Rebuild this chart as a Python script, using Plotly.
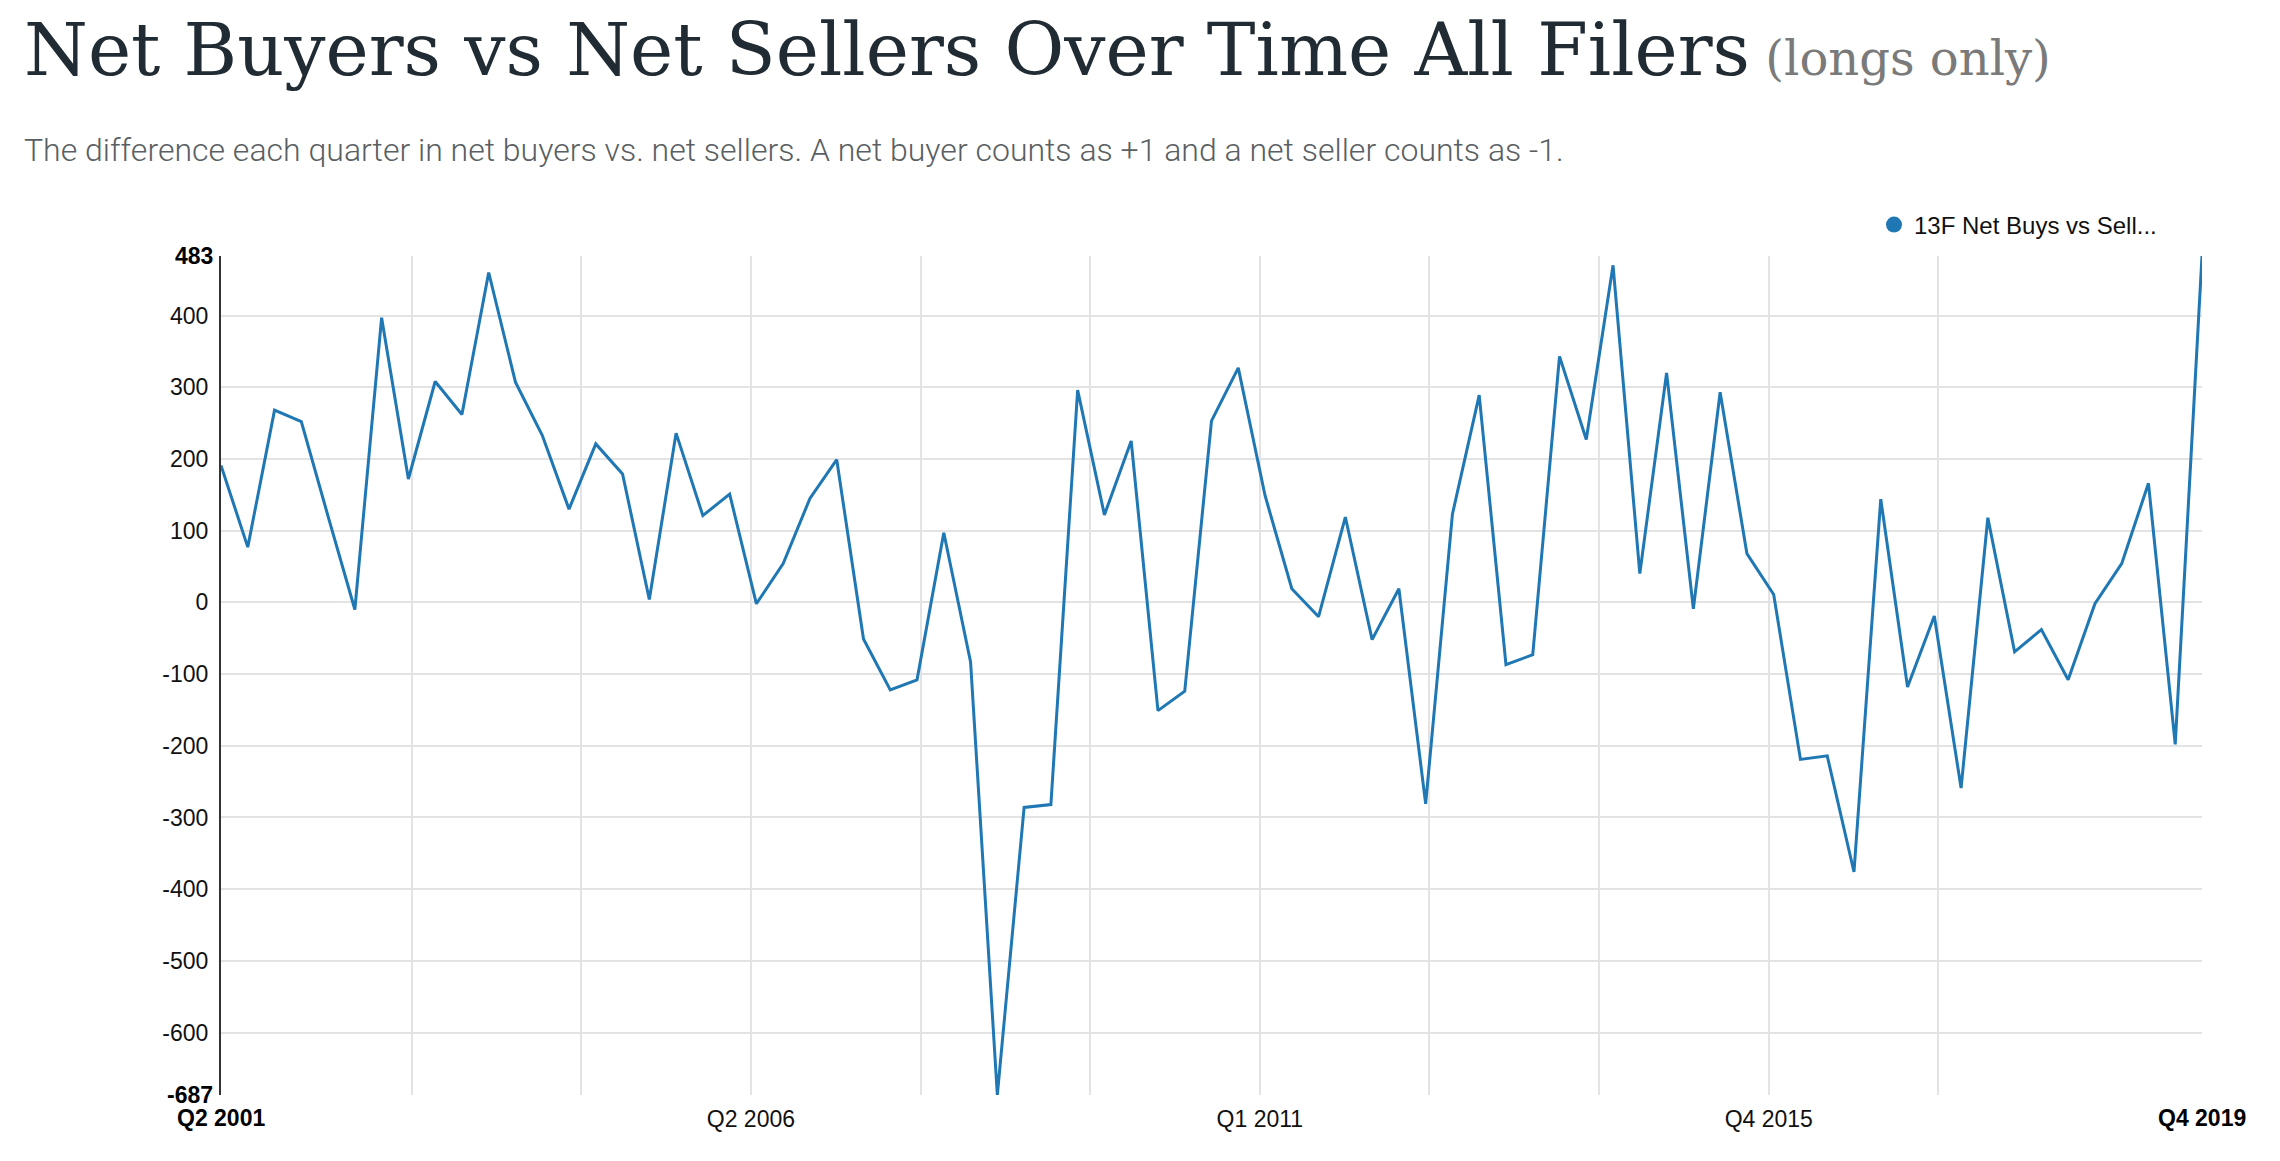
import plotly.graph_objects as go

# ---- data -------------------------------------------------------------
start_year, start_q = 2001, 2
net_buys_vs_sells = [
    191, 77, 268, 252, 120, -10, 397, 172, 308, 262,
    460, 307, 233, 130, 221, 179, 4, 236, 121, 151,
    -2, 54, 145, 199, -51, -122, -108, 97, -83, -687,
    -286, -282, 296, 122, 225, -151, -124, 253, 327, 149,
    19, -20, 119, -52, 19, -281, 123, 289, -87, -73,
    343, 227, 470, 40, 320, -9, 293, 68, 11, -219,
    -214, -376, 144, -118, -19, -259, 118, -69, -38, -108,
    -2, 54, 166, -198, 483,
]
y_ticks = [400, 300, 200, 100, 0, -100, -200, -300, -400, -500, -600]
y_min, y_max = -687, 483
x_mid_labels = ["", "", "Q2 2006", "", "", "Q1 2011", "", "", "Q4 2015", ""]
first_label, last_label = "Q2 2001", "Q4 2019"
series_name = "13F Net Buys vs Sell..."

# quarter labels (for hover)
quarters = []
y, q = start_year, start_q
for _ in net_buys_vs_sells:
    quarters.append(f"Q{q} {y}")
    q += 1
    if q > 4:
        q, y = 1, y + 1
xs = list(range(len(net_buys_vs_sells)))

# vertical grid positions (in quarter units)
grid_first, grid_step = 7.12, 6.337
grid_pos = [grid_first + k * grid_step for k in range(len(x_mid_labels))]

BLUE = "#1f77b4"
GRID = "#e3e3e3"
TICKFONT = dict(family="Liberation Sans, Arial, sans-serif", size=23, color="#111111")

fig = go.Figure()
fig.add_trace(go.Scatter(
    x=xs, y=net_buys_vs_sells, mode="lines", text=quarters,
    line=dict(color=BLUE, width=3), showlegend=False,
    hovertemplate="%{text}: %{y}<extra></extra>",
))
# legend entry (circle symbol)
fig.add_trace(go.Scatter(
    x=[None], y=[None], mode="markers", name=series_name,
    marker=dict(color=BLUE, size=22, symbol="circle"), showlegend=True,
))

# page has an 8px body margin, so the figure is laid out 8px up/left
W, H = 2264, 1145
L, R, T, B = 213, 70, 248, 58
pw, ph = W - L - R, H - T - B

def py(pix):
    return (H - B - pix) / ph

def px(pix):
    return (pix - L) / pw

fig.update_layout(
    width=W, height=H,
    margin=dict(l=L, r=R, t=T, b=B, pad=0),
    paper_bgcolor="white", plot_bgcolor="white",
    showlegend=True,
    legend=dict(
        x=px(1866), y=py(217), xanchor="left", yanchor="middle",
        orientation="h", bgcolor="rgba(0,0,0,0)", borderwidth=0,
        font=dict(family="Liberation Sans, Arial, sans-serif", size=24, color="#111111"),
        itemsizing="trace",
    ),
    xaxis=dict(
        range=[0, len(xs) - 1], tickmode="array", tickvals=grid_pos, ticktext=x_mid_labels,
        showgrid=True, gridcolor=GRID, gridwidth=2, zeroline=False, showline=False,
        ticks="", ticklabelstandoff=8, tickfont=TICKFONT, fixedrange=True,
    ),
    yaxis=dict(
        range=[y_min, y_max], tickmode="array", tickvals=y_ticks,
        ticktext=[str(v) for v in y_ticks],
        showgrid=True, gridcolor=GRID, gridwidth=1.6, zeroline=False,
        showline=True, linecolor="#333333", linewidth=2,
        ticks="", ticklabelstandoff=6, tickfont=TICKFONT, fixedrange=True,
    ),
)

bold = dict(family="Liberation Sans, Arial, sans-serif", size=23, color="#000000")
ann = [
    dict(text=f"<b>{y_max}</b>", xref="paper", yref="y", x=0, y=y_max,
         xanchor="right", yanchor="middle", xshift=-6, showarrow=False, font=bold),
    dict(text=f"<b>{y_min}</b>", xref="paper", yref="y", x=0, y=y_min,
         xanchor="right", yanchor="middle", xshift=-6, showarrow=False, font=bold),
    dict(text=f"<b>{first_label}</b>", xref="x", yref="paper", x=0, y=0,
         xanchor="center", yanchor="middle", yshift=-23, showarrow=False, font=bold),
    dict(text=f"<b>{last_label}</b>", xref="x", yref="paper", x=len(xs) - 1, y=0,
         xanchor="center", yanchor="middle", yshift=-23, showarrow=False, font=bold),
    dict(text="Net Buyers vs Net Sellers Over Time All Filers"
              "<span style='font-size:48px;color:#7a7a7a'> (longs only)</span>",
         xref="paper", yref="paper", x=px(14), y=py(41),
         xanchor="left", yanchor="middle", showarrow=False,
         font=dict(family="DejaVu Serif, serif", size=73, color="#212b33")),
    dict(text="The difference each quarter in net buyers vs. net sellers. "
              "A net buyer counts as +1 and a net seller counts as -1.",
         xref="paper", yref="paper", x=px(14), y=py(142),
         xanchor="left", yanchor="middle", showarrow=False,
         font=dict(family="Roboto, sans-serif", size=32, color="#5a5f63", weight=300)),
]
fig.update_layout(annotations=ann)

fig.write_html("out.html")
